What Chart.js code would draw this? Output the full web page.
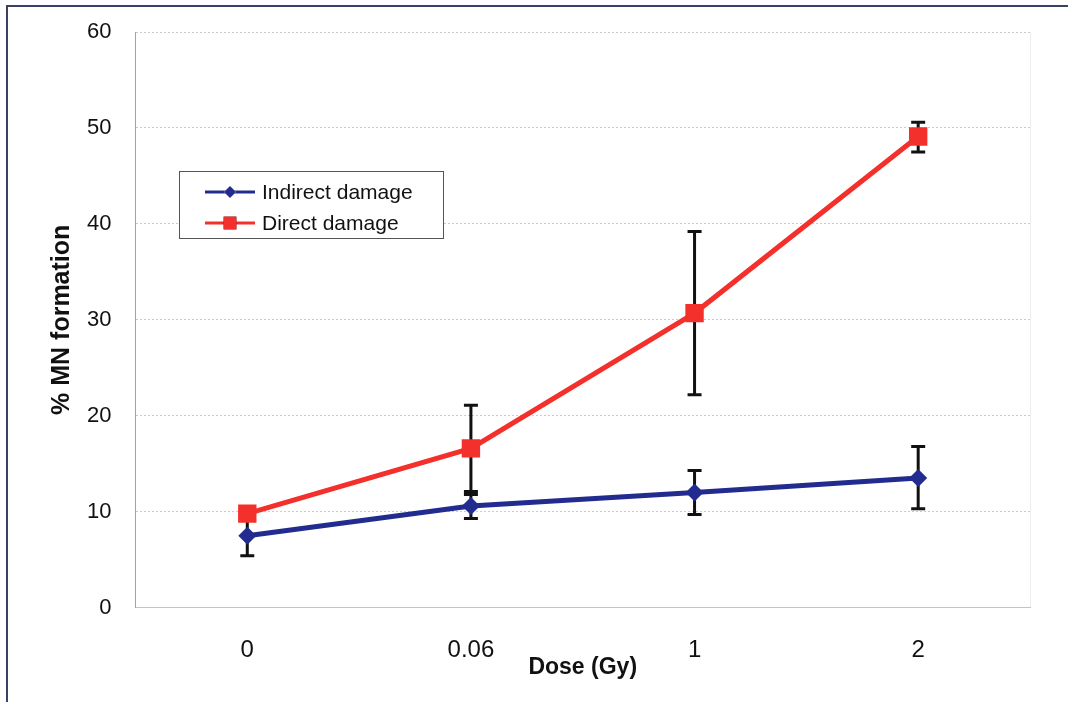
<!DOCTYPE html>
<html>
<head>
<meta charset="utf-8">
<script src="https://cdn.jsdelivr.net/npm/chart.js@4/dist/chart.umd.min.js"></script>
<style>
  html, body { margin: 0; padding: 0; background: #fff; }
  #wrap { width: 1068px; height: 702px; }
</style>
</head>
<body>
<div id="wrap"><canvas id="mnCanvas" width="1068" height="702"></canvas></div>
<script>
// values
const doses = ['0', '0.06', '1', '2'];
const yTicks = [0, 10, 20, 30, 40, 50, 60];

const indirect = [7.5, 10.6, 12.0, 13.5];
const indirectLow = [5.4, 9.3, 9.7, 10.3];
const indirectHigh = [9.6, 11.8, 14.3, 16.8];

const direct = [9.8, 16.6, 30.7, 49.1];
const directLow = [9.3, 12.1, 22.2, 47.5];
const directHigh = [10.3, 21.1, 39.2, 50.6];

const RED = '#f3302b';
const BLUE = '#222c8e';
const FONT = "'Liberation Sans', Arial, sans-serif";

// outer frame of the scanned figure
const framePlugin = {
    id: 'frame',
    beforeDraw(chart) {
        const ctx = chart.ctx;
        ctx.save();
        ctx.strokeStyle = '#3b4163';
        ctx.lineWidth = 2;
        ctx.strokeRect(7, 6, 1200, 900);
        // faint right border of plot
        const a = chart.chartArea;
        ctx.strokeStyle = '#eeeeee';
        ctx.lineWidth = 1;
        ctx.beginPath();
        ctx.moveTo(a.right + 0.5, a.top);
        ctx.lineTo(a.right + 0.5, a.bottom);
        ctx.stroke();
        ctx.restore();
    }
};

// vertical error bars with caps, drawn under the lines
const errorBarPlugin = {
    id: 'errorBars',
    beforeDatasetsDraw(chart) {
        const ctx = chart.ctx;
        const y = chart.scales.y;
        ctx.save();
        ctx.strokeStyle = '#111';
        ctx.lineWidth = 3;
        chart.data.datasets.forEach((ds, i) => {
            const meta = chart.getDatasetMeta(i);
            meta.data.forEach((pt, j) => {
                const top = y.getPixelForValue(ds.errHigh[j]);
                const bot = y.getPixelForValue(ds.errLow[j]);
                ctx.beginPath();
                ctx.moveTo(pt.x, top);
                ctx.lineTo(pt.x, bot);
                ctx.moveTo(pt.x - 7, top);
                ctx.lineTo(pt.x + 7, top);
                ctx.moveTo(pt.x - 7, bot);
                ctx.lineTo(pt.x + 7, bot);
                ctx.stroke();
            });
        });
        ctx.restore();
    }
};

// boxed legend inside the plot, like the original
const boxLegendPlugin = {
    id: 'boxLegend',
    afterDraw(chart) {
        const ctx = chart.ctx;
        const bx = 179, by = 171, bw = 264, bh = 67;
        ctx.save();
        ctx.fillStyle = '#fff';
        ctx.fillRect(bx, by, bw, bh);
        ctx.strokeStyle = '#555';
        ctx.lineWidth = 1;
        ctx.strokeRect(bx + 0.5, by + 0.5, bw, bh);
        chart.data.datasets.forEach((ds, i) => {
            const cy = 192 + i * 31;
            ctx.strokeStyle = ds.borderColor;
            ctx.lineWidth = 3;
            ctx.beginPath();
            ctx.moveTo(205, cy);
            ctx.lineTo(255, cy);
            ctx.stroke();
            Chart.helpers.drawPoint(ctx, {
                pointStyle: ds.pointStyle,
                radius: ds.pointStyle === 'rect' ? 9 : 6,
                borderWidth: 0
            }, 230, cy);
            ctx.fillStyle = ds.borderColor;
            ctx.fill();
            ctx.fillStyle = '#111';
            ctx.font = '21px ' + FONT;
            ctx.textBaseline = 'middle';
            ctx.fillText(ds.label, 262, cy + 1);
        });
        ctx.restore();
    }
};

function initializeChart() {
    const ctx = document.getElementById('mnCanvas').getContext('2d');
    new Chart(ctx, {
        type: 'line',
        data: {
            labels: doses,
            datasets: [
                {
                    label: 'Indirect damage',
                    data: indirect,
                    errLow: indirectLow,
                    errHigh: indirectHigh,
                    borderColor: BLUE,
                    backgroundColor: BLUE,
                    borderWidth: 5,
                    pointStyle: 'rectRot',
                    pointRadius: 9,
                    pointBorderWidth: 0,
                    tension: 0
                },
                {
                    label: 'Direct damage',
                    data: direct,
                    errLow: directLow,
                    errHigh: directHigh,
                    borderColor: RED,
                    backgroundColor: RED,
                    borderWidth: 5,
                    pointStyle: 'rect',
                    pointRadius: 13,
                    pointBorderWidth: 0,
                    tension: 0
                }
            ]
        },
        options: {
            responsive: false,
            animation: false,
            layout: {
                autoPadding: false,
                padding: { top: 32, right: 38, bottom: 21, left: 47 }
            },
            plugins: {
                legend: { display: false },
                tooltip: { enabled: false }
            },
            scales: {
                x: {
                    offset: true,
                    grid: { display: false, drawTicks: false },
                    border: { display: true, color: '#c9c2c2', width: 1, dash: [2, 2] },
                    ticks: {
                        color: '#111',
                        padding: 28,
                        font: { family: FONT, size: 24 }
                    },
                    title: {
                        display: true,
                        text: 'Dose (Gy)',
                        color: '#111',
                        font: { family: FONT, size: 23, weight: 'bold' },
                        padding: { top: -39, bottom: 0 }
                    }
                },
                y: {
                    min: yTicks[0],
                    max: yTicks[yTicks.length - 1],
                    afterBuildTicks(scale) {
                        scale.ticks = yTicks.map(v => ({ value: v }));
                    },
                    grid: {
                        drawTicks: false,
                        color: '#d2caca',
                        lineWidth: 1
                    },
                    border: { display: true, color: '#a9a0a6', width: 1, dash: [2, 2] },
                    ticks: {
                        color: '#111',
                        padding: 24,
                        font: { family: FONT, size: 22, lineHeight: 0.7 }
                    },
                    title: {
                        display: true,
                        text: '% MN formation',
                        color: '#111',
                        font: { family: FONT, size: 25, weight: 'bold' },
                        padding: { top: 0, bottom: -14 }
                    }
                }
            }
        },
        plugins: [framePlugin, errorBarPlugin, boxLegendPlugin]
    });
}

initializeChart();
</script>
</body>
</html>
